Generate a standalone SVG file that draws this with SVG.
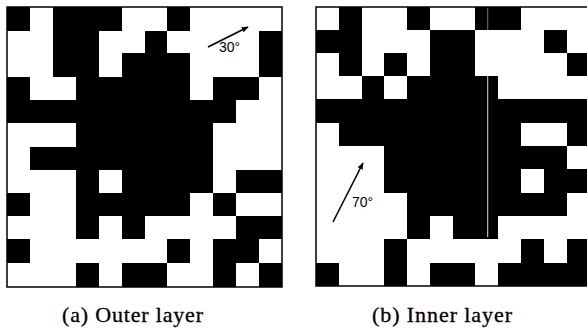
<svg xmlns="http://www.w3.org/2000/svg" width="587" height="329" viewBox="0 0 587 329">
<style>
.bg{fill:#fff}
.c{fill:#000;shape-rendering:crispEdges}
.frame{fill:none;stroke:#000;stroke-width:1.5}
.arr{stroke:#000;stroke-width:1.6;fill:none}
.deg{font-family:"Liberation Sans",Arial,sans-serif;font-size:14px;fill:#000}
.cap{font-family:"Liberation Serif","Times New Roman",serif;font-size:22px;fill:#000;stroke:#000;stroke-width:0.3}
</style>
<defs>
<marker id="ah" viewBox="0 0 10 10" refX="9" refY="5" markerWidth="7" markerHeight="7" orient="auto" markerUnits="userSpaceOnUse">
<path d="M0,1 L10,5 L0,9 Z" fill="#000"/>
</marker>
</defs>
<rect x="0" y="0" width="587" height="329" fill="#fff"/>
<g id="gridA">
<g class="c">
<rect x="7" y="7" width="23" height="24"/><rect x="53" y="7" width="69" height="24"/><rect x="167" y="7" width="23" height="24"/>
<rect x="53" y="31" width="46" height="22"/><rect x="145" y="31" width="22" height="22"/><rect x="259" y="31" width="23" height="22"/>
<rect x="53" y="53" width="46" height="24"/><rect x="122" y="53" width="68" height="24"/><rect x="259" y="53" width="23" height="24"/>
<rect x="7" y="77" width="23" height="23"/><rect x="76" y="77" width="114" height="23"/><rect x="213" y="77" width="46" height="23"/>
<rect x="7" y="100" width="229" height="23"/>
<rect x="76" y="123" width="137" height="24"/>
<rect x="30" y="147" width="183" height="23"/>
<rect x="76" y="170" width="23" height="23"/><rect x="122" y="170" width="91" height="23"/><rect x="236" y="170" width="46" height="23"/>
<rect x="7" y="193" width="23" height="23"/><rect x="76" y="193" width="114" height="23"/><rect x="213" y="193" width="23" height="23"/>
<rect x="76" y="216" width="23" height="23"/><rect x="122" y="216" width="23" height="23"/><rect x="236" y="216" width="46" height="23"/>
<rect x="7" y="239" width="23" height="24"/><rect x="167" y="239" width="23" height="24"/><rect x="213" y="239" width="46" height="24"/>
<rect x="76" y="263" width="23" height="24"/><rect x="122" y="263" width="45" height="24"/><rect x="213" y="263" width="23" height="24"/><rect x="259" y="263" width="23" height="24"/>
</g>
<rect class="frame" x="7" y="7" width="275" height="280"/>
<text class="deg" x="219" y="52">30°</text>
<line class="arr" x1="208" y1="47" x2="248" y2="27" marker-end="url(#ah)"/>
</g>
<g id="gridB">
<g class="c">
<rect x="339" y="7" width="23" height="23"/><rect x="407" y="7" width="23" height="23"/><rect x="475" y="7" width="46" height="23"/>
<rect x="316" y="30" width="46" height="23"/><rect x="430" y="30" width="45" height="23"/><rect x="544" y="30" width="23" height="23"/>
<rect x="339" y="53" width="23" height="23"/><rect x="384" y="53" width="23" height="23"/><rect x="430" y="53" width="45" height="23"/><rect x="567" y="53" width="23" height="23"/>
<rect x="362" y="76" width="22" height="23"/><rect x="407" y="76" width="91" height="23"/>
<rect x="316" y="99" width="274" height="24"/>
<rect x="339" y="123" width="182" height="23"/><rect x="567" y="123" width="23" height="23"/>
<rect x="384" y="146" width="183" height="23"/>
<rect x="384" y="169" width="137" height="24"/><rect x="544" y="169" width="46" height="24"/>
<rect x="407" y="193" width="160" height="23"/>
<rect x="407" y="216" width="23" height="23"/><rect x="453" y="216" width="45" height="23"/>
<rect x="384" y="239" width="23" height="24"/><rect x="521" y="239" width="23" height="24"/><rect x="567" y="239" width="23" height="24"/>
<rect x="316" y="263" width="23" height="23"/><rect x="384" y="263" width="23" height="23"/><rect x="430" y="263" width="45" height="23"/><rect x="498" y="263" width="92" height="23"/>
</g>
<rect x="487.2" y="76" width="1" height="161" fill="#d8d8d8"/>
<rect x="487.2" y="8" width="1" height="22" fill="#777"/>
<rect class="frame" x="316" y="7" width="274" height="279"/>
<text class="deg" x="352" y="207">70°</text>
<line class="arr" x1="333" y1="222" x2="363" y2="163" marker-end="url(#ah)"/>
</g>
<g id="captions">
<text class="cap" x="62" y="322" textLength="141" lengthAdjust="spacing">(a) Outer layer</text>
<text class="cap" x="372" y="322" textLength="140" lengthAdjust="spacing">(b) Inner layer</text>
</g>
</svg>
